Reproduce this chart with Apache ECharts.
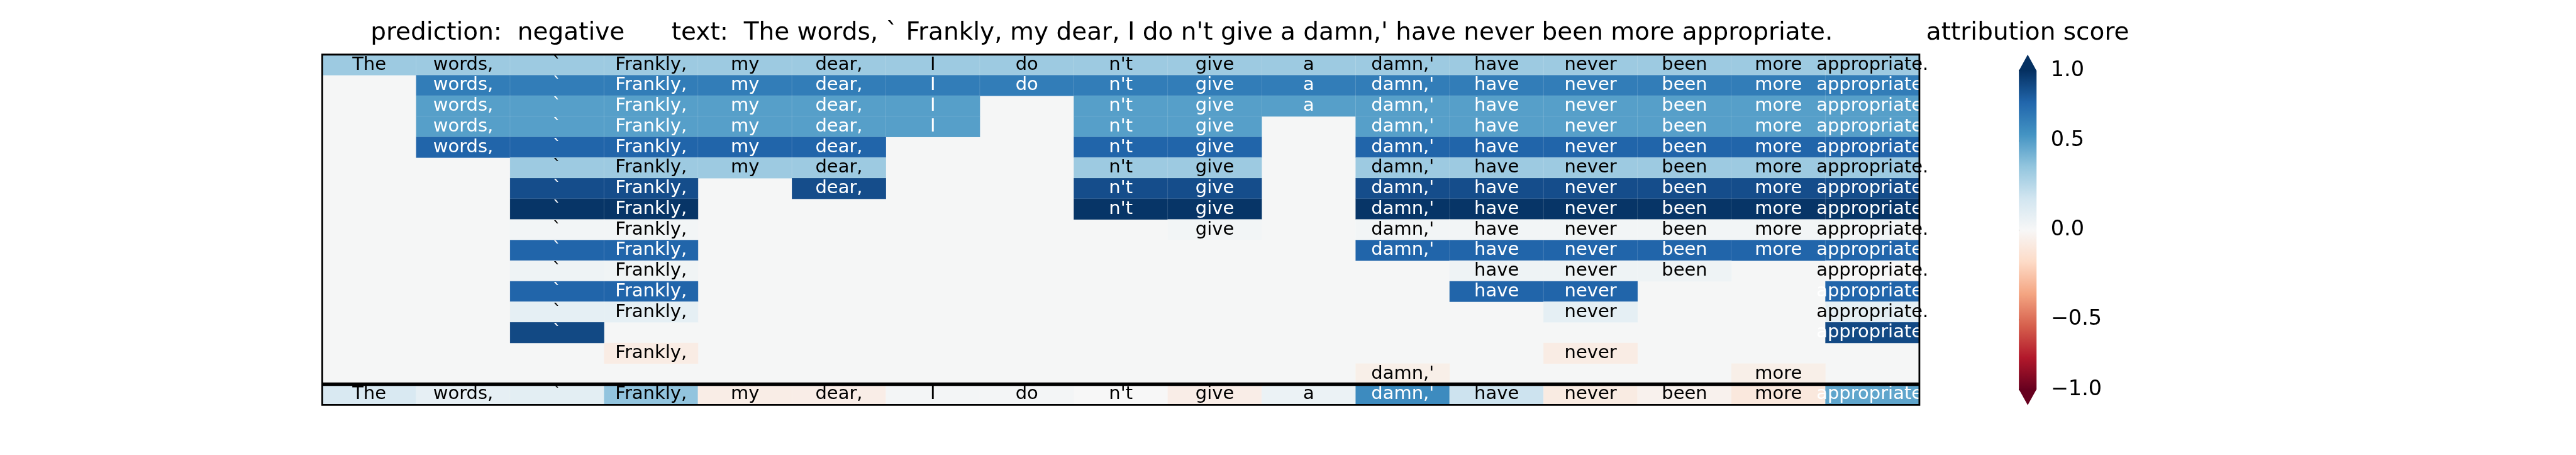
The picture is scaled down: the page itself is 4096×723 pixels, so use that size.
<!DOCTYPE html>
<html><head><meta charset="utf-8">
<script src="https://cdn.jsdelivr.net/npm/echarts@6/dist/echarts.min.js"></script>
<style>html,body{margin:0;padding:0;background:#fff}#c{width:4096px;height:723px}</style>
</head><body><div id="c"></div>
<script>
// ---------------- data ----------------
const tokens = ["The", "words,", "`", "Frankly,", "my", "dear,", "I", "do", "n't", "give", "a", "damn,'", "have", "never", "been", "more", "appropriate."];
const N = null;
// attribution score of each shown token, one row per line (row 16 = full sentence, below the separator)
const scores = [
  [0.30,0.30,0.30,0.30,0.30,0.30,0.30,0.30,0.30,0.30,0.30,0.30,0.30,0.30,0.30,0.30,0.30],
  [N,0.65,0.65,0.65,0.65,0.65,0.65,0.65,0.65,0.65,0.65,0.65,0.65,0.65,0.65,0.65,0.65],
  [N,0.49,0.49,0.49,0.49,0.49,0.49,N,0.49,0.49,0.49,0.49,0.49,0.49,0.49,0.49,0.49],
  [N,0.49,0.49,0.49,0.49,0.49,0.49,N,0.49,0.49,N,0.49,0.49,0.49,0.49,0.49,0.49],
  [N,0.77,0.77,0.77,0.77,0.77,N,N,0.77,0.77,N,0.77,0.77,0.77,0.77,0.77,0.77],
  [N,N,0.30,0.30,0.30,0.30,N,N,0.30,0.30,N,0.30,0.30,0.30,0.30,0.30,0.30],
  [N,N,0.87,0.87,N,0.87,N,N,0.87,0.87,N,0.87,0.87,0.87,0.87,0.87,0.87],
  [N,N,0.98,0.98,N,N,N,N,0.98,0.98,N,0.98,0.98,0.98,0.98,0.98,0.98],
  [N,N,0.015,0.015,N,N,N,N,N,0.015,N,0.015,0.015,0.015,0.015,0.015,0.015],
  [N,N,0.77,0.77,N,N,N,N,N,N,N,0.77,0.77,0.77,0.77,0.77,0.77],
  [N,N,0.025,0.02,N,N,N,N,N,N,N,N,0.025,0.025,0.025,N,0.0],
  [N,N,0.77,0.77,N,N,N,N,N,N,N,N,0.77,0.77,N,N,0.77],
  [N,N,0.06,0.06,N,N,N,N,N,N,N,N,N,0.06,N,N,0.06],
  [N,N,0.89,N,N,N,N,N,N,N,N,N,N,N,N,N,0.89],
  [N,N,N,-0.047,N,N,N,N,N,N,N,N,N,-0.047,N,N,N],
  [N,N,N,N,N,N,N,N,N,N,N,-0.035,N,N,N,-0.035,N],
  [0.109,0.055,0.068,0.333,-0.042,-0.04,0.012,0.01,0.0,-0.04,0.036,0.58,0.155,-0.053,-0.023,-0.068,0.466]
];
const cbTicks = [-1, -0.5, 0, 0.5, 1];
const cbTickLabels = ["\u22121.0", "\u22120.5", "0.0", "0.5", "1.0"];
const titleText = "prediction:  negative      text:  The words, ` Frankly, my dear, I do n't give a damn,' have never been more appropriate.";
const cbarTitle = "attribution score";

// ---------------- styling / layout ----------------
const S = 4096 / 5100;
const FONT = "DejaVu Sans";
const L = 638 * S, R = 3800 * S, T = 108 * S, B = 801 * S;
const W = R - L, H = B - T;
const nRows = scores.length;
const rowH = H / nRows;
const CB_X = 3997 * S, CB_W = 35 * S, CB_TOP = 139.6 * S, CB_BOT = 770.8 * S;
const CB_TIP_TOP = 108 * S, CB_TIP_BOT = 801.6 * S;

const RDBU = ["#67001f","#b2182b","#d6604d","#f4a582","#fddbc7","#f7f7f7","#d1e5f0","#92c5de","#4393c3","#2166ac","#053061"];
function hex2rgb(h){return [parseInt(h.slice(1,3),16),parseInt(h.slice(3,5),16),parseInt(h.slice(5,7),16)];}
function rdbu(t){
  t = Math.max(0, Math.min(1, t));
  const p = t * 10, i = Math.min(9, Math.floor(p)), f = p - i;
  const a = hex2rgb(RDBU[i]), b = hex2rgb(RDBU[i+1]);
  const c = a.map((x,k)=>Math.round(x + (b[k]-x)*f));
  return "rgb(" + c.join(",") + ")";
}
// colour-bar norm (ticks are not evenly spaced on the bar)
const GAMMA = 0.834;
const norm = v => Math.sign(v) * Math.pow(Math.abs(v), GAMMA);
const vmColors = [];
for (let i = 0; i <= 80; i++) { const v = -1 + i * 0.025; vmColors.push(rdbu((norm(v) + 1) / 2)); }

const cells = [];
scores.forEach((row, r) => row.forEach((v, c) => {
  if (v === null) return;
  cells.push({ value: [c, r, v], label: { color: v > 0.4 ? "#ffffff" : "#000000" } });
}));

const chart = echarts.init(document.getElementById("c"), null, { renderer: "canvas" });
const option = {
  animation: false,
  backgroundColor: "#ffffff",
  textStyle: { fontFamily: FONT },
  grid: [
    { left: L, top: T, width: W, height: H, show: true, backgroundColor: "#f5f6f6", borderWidth: 0 },
    { left: CB_X, top: CB_TOP, width: CB_W, height: CB_BOT - CB_TOP, show: false }
  ],
  xAxis: [
    { type: "category", gridIndex: 0, data: tokens, show: false },
    { type: "value", gridIndex: 1, min: 0, max: 1, show: false }
  ],
  yAxis: [
    { type: "category", gridIndex: 0, inverse: true, data: scores.map((_, i) => String(i)), show: false },
    { type: "value", gridIndex: 1, min: -1, max: 1, position: "right",
      axisLine: { show: false }, splitLine: { show: false },
      axisTick: { show: true, length: 12.6, lineStyle: { color: "#000", width: 2.4 }, customValues: cbTicks.map(norm) },
      axisLabel: { show: true, customValues: cbTicks.map(norm), margin: 22.5, fontSize: 33.5, color: "#000", fontFamily: FONT,
        formatter: u => { let best = 0; cbTicks.forEach((t, i) => { if (Math.abs(norm(t) - u) < Math.abs(norm(cbTicks[best]) - u)) best = i; }); return cbTickLabels[best]; } }
    }
  ],
  visualMap: { show: false, type: "continuous", seriesIndex: 0, dimension: 2, min: -1, max: 1, inRange: { color: vmColors } },
  series: [{
    type: "heatmap", xAxisIndex: 0, yAxisIndex: 0, data: cells,
    itemStyle: { borderColor: "rgba(255,255,255,0.12)", borderWidth: 1 },
    label: { show: true, formatter: p => tokens[p.value[0]], fontFamily: FONT, fontSize: 29, position: "inside" },
    emphasis: { disabled: true }
  }],
  graphic: [
    { type: "text", x: 733.6 * S, y: 53, z: 100,
      style: { text: titleText, font: "39px '" + FONT + "'", fill: "#000", textAlign: "left", textVerticalAlign: "middle" } },
    { type: "text", x: 4014.5 * S, y: 53, z: 100,
      style: { text: cbarTitle, font: "39px '" + FONT + "'", fill: "#000", textAlign: "center", textVerticalAlign: "middle" } },
    { type: "rect", z: 90, shape: { x: CB_X, y: CB_TOP, width: CB_W, height: CB_BOT - CB_TOP },
      style: { fill: new echarts.graphic.LinearGradient(0, 0, 0, 1, RDBU.slice().reverse().map((c, i) => ({ offset: i / 10, color: c }))) } },
    { type: "polygon", z: 90, shape: { points: [[CB_X, CB_TOP + 0.5], [CB_X + CB_W, CB_TOP + 0.5], [CB_X + CB_W / 2, CB_TIP_TOP]] }, style: { fill: RDBU[10] } },
    { type: "polygon", z: 90, shape: { points: [[CB_X, CB_BOT - 0.5], [CB_X + CB_W, CB_BOT - 0.5], [CB_X + CB_W / 2, CB_TIP_BOT]] }, style: { fill: RDBU[0] } },
    { type: "rect", z: 100, shape: { x: L, y: T, width: W, height: H }, style: { fill: null, stroke: "#000", lineWidth: 2.8 } },
    { type: "line", z: 100, shape: { x1: L, y1: T + rowH * (nRows - 1), x2: R, y2: T + rowH * (nRows - 1) }, style: { stroke: "#000", lineWidth: 5.4 } }
  ]
};
chart.setOption(option);
</script>
</body></html>
